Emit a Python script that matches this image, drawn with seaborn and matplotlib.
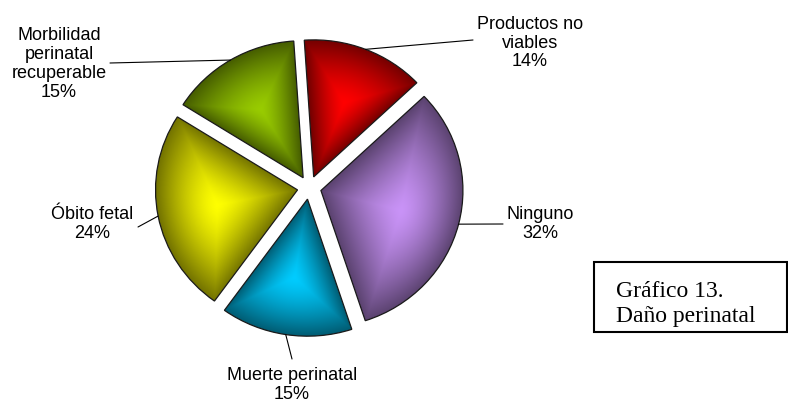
import numpy as np
import matplotlib
matplotlib.use("Agg")
import matplotlib.pyplot as plt
import seaborn as sns
from matplotlib.patches import Rectangle
from matplotlib.colors import to_rgb

# Daño perinatal: share of cases per outcome (clockwise from the top)
categories = ["Productos no\nviables", "Ninguno", "Muerte perinatal",
              "Óbito fetal", "Morbilidad\nperinatal\nrecuperable"]
shares = [14, 32, 15, 24, 15]
slice_colors = ["#ff0000", "#c993f7", "#00ccff", "#ffff00", "#99cc00"]

sns.set_theme(style="white")
plt.rcParams["font.family"] = ["Liberation Sans", "DejaVu Sans"]

W, H = 788, 403
SQUASH = 0.965          # the pie is drawn slightly flattened vertically
fig = plt.figure(figsize=(W / 100, H / 100), dpi=100)
ax = fig.add_axes([0, 0, 1, 1])


def py(y):
    """Convert a top-down pixel row to the data y coordinate."""
    return (H - y) / SQUASH


radius = 142
wedges, _ = ax.pie(shares, radius=radius, center=(309.3, py(187.7)),
                   startangle=93.8, counterclock=False,
                   explode=[12] * len(shares), colors=slice_colors,
                   wedgeprops=dict(linewidth=0.9, edgecolor="#1a1a1a"))

# Shaded fill: bright at an inner focus, darkening towards the slice border
for w, col in zip(wedges, slice_colors):
    cx, cy = w.center
    r = w.r
    t1, t2 = np.deg2rad(w.theta1), np.deg2rad(w.theta2)
    tm = 0.5 * (t1 + t2)
    fx, fy = cx + 0.58 * r * np.cos(tm), cy + 0.58 * r * np.sin(tm)

    arc = np.linspace(t1, t2, 400)
    s = np.linspace(0, 1, 200)
    ex1, ey1 = cx + r * np.cos(t1), cy + r * np.sin(t1)
    ex2, ey2 = cx + r * np.cos(t2), cy + r * np.sin(t2)
    bx = np.concatenate([cx + s * (ex1 - cx), cx + r * np.cos(arc), ex2 + s * (cx - ex2)])
    by = np.concatenate([cy + s * (ey1 - cy), cy + r * np.sin(arc), ey2 + s * (cy - ey2)])
    phi_b = np.arctan2(by - fy, bx - fx)
    d_b = np.hypot(bx - fx, by - fy)
    order = np.argsort(phi_b)
    phi_b, d_b = phi_b[order], d_b[order]

    x0, x1 = cx - r - 2, cx + r + 2
    y0, y1 = cy - r - 2, cy + r + 2
    gx, gy = np.meshgrid(np.arange(x0, x1, 0.5), np.arange(y0, y1, 0.5))
    phi = np.arctan2(gy - fy, gx - fx)
    rho = np.hypot(gx - fx, gy - fy)
    dist = np.interp(phi, phi_b, d_b, period=2 * np.pi)
    t = np.clip(rho / dist, 0, 1) ** 1.4

    bright = np.array(to_rgb(col))
    dark = bright * 0.45
    img = bright[None, None, :] * (1 - t[..., None]) + dark[None, None, :] * t[..., None]
    im = ax.imshow(img, extent=(x0, x1, y0, y1), origin="lower",
                   interpolation="bilinear", zorder=2, aspect="auto")
    im.set_clip_path(w)
    w.set_facecolor("none")
    w.set_zorder(3)

# Labels with leader lines from the middle of each slice's arc
label_pos = [(530, 43), (540, 224), (292, 385), (92, 224), (59, 64)]
leader_end = [(473, 40), (503, 224), (292, 359), (138, 227), (110, 63)]
for w, cat, val, (lx, ly), (ex, ey) in zip(wedges, categories, shares, label_pos, leader_end):
    cx, cy = w.center
    tm = np.deg2rad(0.5 * (w.theta1 + w.theta2))
    sx, sy = cx + w.r * np.cos(tm), cy + w.r * np.sin(tm)
    ax.plot([sx, ex], [sy, py(ey)], color="black", lw=0.8, zorder=4)
    ax.text(lx, py(ly), f"{cat}\n{val}%", ha="center", va="center",
            fontsize=13, linespacing=1.15, color="black", zorder=5)

# Caption box
box = Rectangle((594, py(332)), 193, 70 / SQUASH, facecolor="white",
                edgecolor="black", lw=1.5, zorder=6)
ax.add_patch(box)
for line, base in [("Gráfico 13.", 297), ("Daño perinatal", 322)]:
    tx = ax.text(616, py(base), line, ha="left", va="baseline", fontsize=17,
                 family=["Liberation Serif", "DejaVu Serif"], color="black", zorder=7)
    tx.set_clip_path(box)

ax.set_xlim(0, W)
ax.set_ylim(0, H / SQUASH)
ax.set_aspect("auto")
ax.axis("off")
fig.savefig("out.png", dpi=100, facecolor="white")
